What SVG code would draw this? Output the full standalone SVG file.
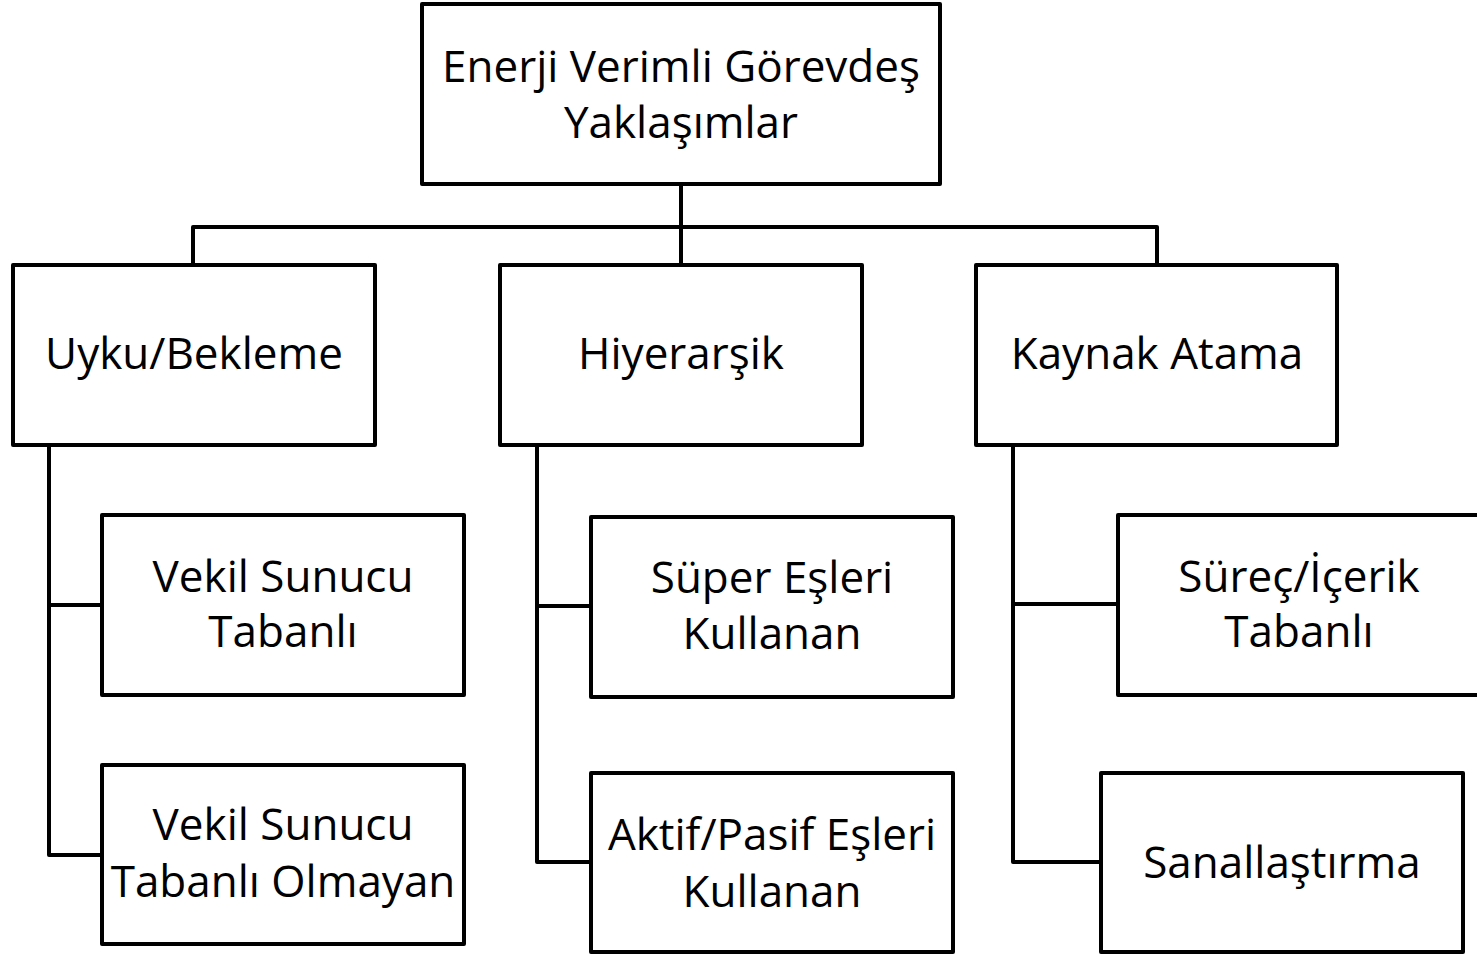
<svg xmlns="http://www.w3.org/2000/svg" width="1477" height="956" viewBox="0 0 1477 956">
<style>
.box{fill:#fff;stroke:#000;stroke-width:4;stroke-linejoin:round}
.ln{fill:none;stroke:#000;stroke-width:4;stroke-linejoin:round}
text{font-family:"Open Sans","Liberation Sans",sans-serif;font-size:44px;fill:#000;text-anchor:middle}
</style>
<rect width="1477" height="956" fill="#fff"/>
<g id="connectors">
<path class="ln" d="M681 184V265M193 265V227H1157V265"/>
<path class="ln" d="M49 445V855H102M49 605H102"/>
<path class="ln" d="M537 445V862H591M537 606H591"/>
<path class="ln" d="M1013 445V862H1101M1013 604H1118"/>
</g>
<g id="root">
<rect class="box" x="422" y="4" width="518" height="180"/>
<text x="681" y="82">Enerji Verimli Görevdeş</text>
<text x="681" y="138">Yaklaşımlar</text>
</g>
<g id="uyku">
<rect class="box" x="13" y="265" width="362" height="180"/>
<text x="194" y="369">Uyku/Bekleme</text>
</g>
<g id="hiyerarsik">
<rect class="box" x="500" y="265" width="362" height="180"/>
<text x="681" y="369">Hiyerarşik</text>
</g>
<g id="kaynak">
<rect class="box" x="976" y="265" width="361" height="180"/>
<text x="1157" y="369">Kaynak Atama</text>
</g>
<g id="vekil1">
<rect class="box" x="102" y="515" width="362" height="180"/>
<text x="283" y="592">Vekil Sunucu</text>
<text x="283" y="647">Tabanlı</text>
</g>
<g id="vekil2">
<rect class="box" x="102" y="765" width="362" height="179"/>
<text x="283" y="840">Vekil Sunucu</text>
<text x="283" y="897">Tabanlı Olmayan</text>
</g>
<g id="super">
<rect class="box" x="591" y="517" width="362" height="180"/>
<text x="772" y="593">Süper Eşleri</text>
<text x="772" y="649">Kullanan</text>
</g>
<g id="aktif">
<rect class="box" x="591" y="773" width="362" height="179"/>
<text x="772" y="850">Aktif/Pasif Eşleri</text>
<text x="772" y="907">Kullanan</text>
</g>
<g id="surec">
<rect class="box" x="1118" y="515" width="362" height="180"/>
<text x="1299" y="592">Süreç/İçerik</text>
<text x="1299" y="647">Tabanlı</text>
</g>
<g id="sanal">
<rect class="box" x="1101" y="773" width="362" height="179"/>
<text x="1282" y="878">Sanallaştırma</text>
</g>
</svg>
